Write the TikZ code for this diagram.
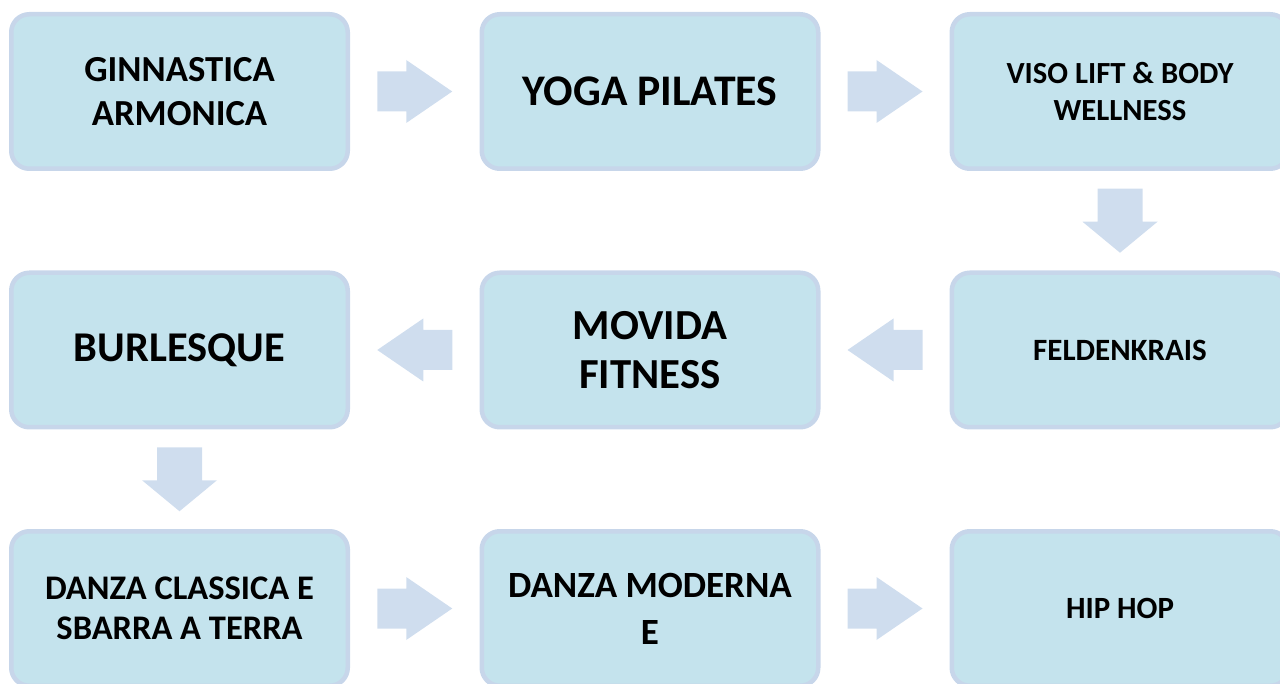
\documentclass[tikz,border=0pt]{standalone}
\usepackage{fontspec}
\setmainfont{Carlito}
\usetikzlibrary{calc}
\definecolor{boxfill}{RGB}{196,227,237}
\definecolor{boxline}{RGB}{199,214,234}
\definecolor{arrowfill}{RGB}{207,221,238}
\tikzset{
  stagebox/.style={draw=boxline, line width=4.5pt, fill=boxfill, rounded corners=18pt,
    minimum width=336.5pt, minimum height=154.5pt, align=center, inner sep=0pt, text=black},
  fs/.style 2 args={font=\bfseries\fontsize{#1}{#2}\selectfont},
}
\newcommand\harrow[2]{\fill[arrowfill, shift={(#1)}, rotate=#2]
  (-37.5,-20) -- (-8.5,-20) -- (-8.5,-31.5) -- (37.5,0) -- (-8.5,31.5) -- (-8.5,20) -- (-37.5,20) -- cycle;}
\newcommand\varrow[1]{\fill[arrowfill, shift={(#1)}, rotate=-90]
  (-32,-22.5) -- (1,-22.5) -- (1,-37.5) -- (32,0) -- (1,37.5) -- (1,22.5) -- (-32,22.5) -- cycle;}
\begin{document}
\begin{tikzpicture}[x=1pt,y=-1pt]
\useasboundingbox (0,0) rectangle (1280,684);
\clip (0,0) rectangle (1280,684);
\node[stagebox, fs={36.7}{44}] (n1) at (179.5,91.5) {GINNASTICA\\ARMONICA};
\node[stagebox, fs={43.7}{50}] (n2) at (650,91.5) {YOGA PILATES};
\node[stagebox, fs={30.7}{37}] (n3) at (1120,91.5) {VISO LIFT \& BODY\\WELLNESS};
\node[stagebox, fs={31}{36}] (n4) at (1120,350) {FELDENKRAIS};
\node[stagebox, fs={42.8}{49}] (n5) at (650,350) {MOVIDA\\FITNESS};
\node[stagebox, fs={42.4}{50}] (n6) at (179.5,350) {BURLESQUE};
\node[stagebox, fs={34.5}{40}] (n7) at (179.5,608.5) {DANZA CLASSICA E\\SBARRA A TERRA};
\node[stagebox, fs={37}{47}] (n8) at (650,608.5) {DANZA MODERNA\\E};
\node[stagebox, fs={30.9}{36}] (n9) at (1120,608.5) {HIP HOP};
\coordinate (a12) at ($(n1.east)!0.5!(n2.west)$);
\coordinate (a23) at ($(n2.east)!0.5!(n3.west)$);
\coordinate (a34) at ($(n3.south)!0.5!(n4.north)$);
\coordinate (a45) at ($(n4.west)!0.5!(n5.east)$);
\coordinate (a56) at ($(n5.west)!0.5!(n6.east)$);
\coordinate (a67) at ($(n6.south)!0.5!(n7.north)$);
\coordinate (a78) at ($(n7.east)!0.5!(n8.west)$);
\coordinate (a89) at ($(n8.east)!0.5!(n9.west)$);
\harrow{a12}{0}
\harrow{a23}{0}
\varrow{a34}
\harrow{a45}{180}
\harrow{a56}{180}
\varrow{a67}
\harrow{a78}{0}
\harrow{a89}{0}
\end{tikzpicture}
\end{document}
